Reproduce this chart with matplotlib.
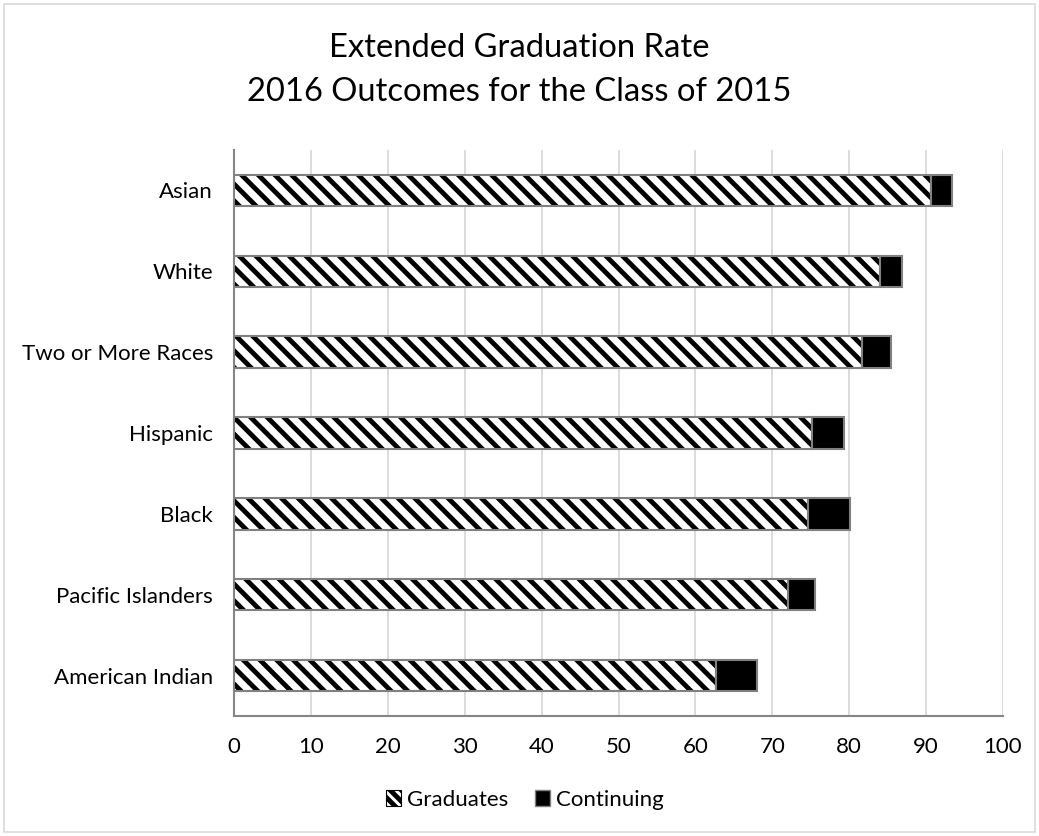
import matplotlib
matplotlib.use("Agg")
import matplotlib.pyplot as plt
from matplotlib.patches import Patch

categories = ["American Indian", "Pacific Islanders", "Black", "Hispanic",
              "Two or More Races", "White", "Asian"]
graduates = [62.7, 72.0, 74.6, 75.2, 81.7, 84.0, 90.6]
continuing = [5.3, 3.6, 5.5, 4.1, 3.7, 2.9, 2.8]
xticks = [0, 10, 20, 30, 40, 50, 60, 70, 80, 90, 100]
title = "Extended Graduation Rate\n2016 Outcomes for the Class of 2015"

plt.rcParams['font.family'] = ['Lato', 'DejaVu Sans']
plt.rcParams['hatch.linewidth'] = 3.5

fig = plt.figure(figsize=(10.39, 8.36), dpi=100)
ax = fig.add_axes([234/1039, 1-716/836, (1003-234)/1039, (716-150)/836])

y = list(range(len(categories)))
edge = '#808080'
bh = 0.39
# hatched fill (hatch drawn in black)
ax.barh(y, graduates, height=bh, color='white', edgecolor='black',
        hatch='\\\\', linewidth=0, zorder=3)
# gray outline on top
ax.barh(y, graduates, height=bh, fill=False, edgecolor=edge,
        linewidth=1.5, zorder=4)
ax.barh(y, continuing, left=graduates, height=bh, color='black',
        edgecolor=edge, linewidth=1.5, zorder=4)

ax.set_xlim(0, 100)
ax.set_ylim(-0.5, len(categories) - 0.5)
ax.set_xticks(xticks)
ax.set_xticklabels([str(t) for t in xticks])
ax.set_yticks(y)
ax.set_yticklabels(categories)
ax.tick_params(axis='both', length=0, labelsize=16, colors='#000000')
ax.tick_params(axis='y', pad=15)
ax.tick_params(axis='x', pad=15)
ax.grid(axis='x', color='#d9d9d9', linewidth=1.3, zorder=0)
ax.set_axisbelow(True)
for s in ['top', 'right']:
    ax.spines[s].set_visible(False)
for s in ['left', 'bottom']:
    ax.spines[s].set_color('#868686')
    ax.spines[s].set_linewidth(1.5)

fig.text(0.5, 1-70/836, title, ha='center', va='center', fontsize=23.6,
         linespacing=1.55)

handles = [Patch(facecolor='white', edgecolor='black', hatch='\\\\\\', linewidth=0.8,
                 label='Graduates'),
           Patch(facecolor='black', edgecolor=edge, label='Continuing')]
fig.legend(handles=handles, loc='center', bbox_to_anchor=(0.505, 1-800/836),
           ncol=2, frameon=False, fontsize=16, handlelength=0.7,
           handleheight=0.7, handletextpad=0.25, columnspacing=1.2)

border = plt.Rectangle((4/1039, 4/836), 1-8/1039, 1-8/836, transform=fig.transFigure,
                       fill=False, edgecolor='#d9d9d9', linewidth=1.2)
fig.patches.append(border)

fig.savefig("out.png", dpi=100, facecolor='white')
